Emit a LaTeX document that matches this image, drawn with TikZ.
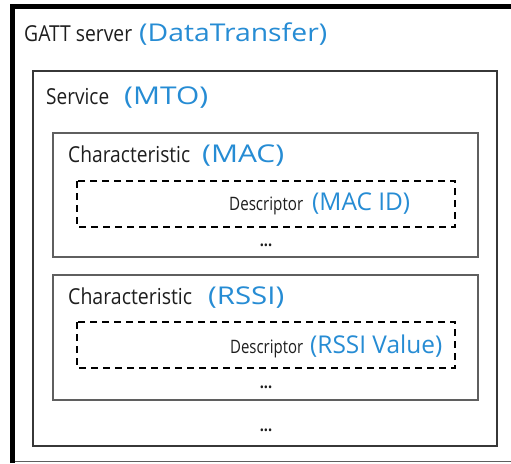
\documentclass[tikz,border=0pt]{standalone}
\usepackage{fontspec}
\usepackage{graphicx}
\setmainfont{Open Sans}
\newfontfamily\namefont[FakeStretch=0.85]{Open Sans}
\newfontfamily\tagfont{Open Sans}
\definecolor{tagblue}{RGB}{38,140,212}
\definecolor{inkgray}{RGB}{30,30,30}
\definecolor{rulegray}{RGB}{55,55,55}
\definecolor{thingray}{RGB}{95,95,95}
% set a label to a given width, keeping its natural height
\newcommand{\fitw}[2]{\resizebox{#1}{\height}{#2}}
\begin{document}
\begin{tikzpicture}[x=1pt,y=-1pt,
  kind/.style={anchor=base west,inner sep=0pt,text=inkgray,font=\namefont\fontsize{22}{22}\selectfont},
  desc/.style={anchor=base west,inner sep=0pt,text=inkgray,font=\namefont\fontsize{18.5}{18.5}\selectfont},
  tag/.style={anchor=base west,inner sep=0pt,text=tagblue,font=\tagfont\fontsize{24.5}{24.5}\selectfont},
  dots/.style={anchor=base,inner sep=0pt,text=inkgray,font=\namefont\bfseries\fontsize{17}{17}\selectfont},
  servicebox/.style={draw=rulegray,line width=2pt},
  charbox/.style={draw=thingray,line width=1.3pt},
  descbox/.style={draw=black,line width=2pt,dash pattern=on 7pt off 5pt}]
\useasboundingbox (0,0) rectangle (511,463);
\fill[white] (0,0) rectangle (511,463);

% server frame
\draw[black,line width=5pt] (12.5,463) -- (12.5,6.5) -- (511,6.5);
\draw[thingray,line width=1pt] (15,461) -- (511,461);
\node[kind] (srv) at (24,41) {\fitw{108pt}{GATT server}};
\node[tag] (srvtag) at (139,41) {\fitw{188pt}{(DataTransfer)}};

% service box
\draw[servicebox] (33,71) rectangle (497,446);
\node[kind] (svc) at (46,104) {\fitw{63pt}{Service}};
\node[tag] (svctag) at (124,104) {\fitw{84pt}{(MTO)}};

% characteristic: MAC
\draw[charbox] (53,133) rectangle (478,257);
\node[kind] (chmac) at (68,162) {\fitw{122pt}{Characteristic}};
\node[tag] (chmactag) at (202,162) {\fitw{82pt}{(MAC)}};
\draw[descbox] (77,181) rectangle (455,227);
\node[desc] (dsmac) at (229,210) {\fitw{74pt}{Descriptor}};
\node[tag] (dsmactag) at (312,210) {\fitw{98pt}{(MAC ID)}};
\node[dots] (dotsmac) at (266,246) {...};

% characteristic: RSSI
\draw[charbox] (53,275) rectangle (478,400);
\node[kind] (chrssi) at (68,304) {\fitw{124pt}{Characteristic}};
\node[tag] (chrssitag) at (208,304) {\fitw{76pt}{(RSSI)}};
\draw[descbox] (77,322) rectangle (455,368);
\node[desc] (dsrssi) at (230,353) {\fitw{73pt}{Descriptor}};
\node[tag] (dsrssitag) at (310,353) {\fitw{132pt}{(RSSI Value)}};
\node[dots] (dotsrssi) at (266,388) {...};

\node[dots] (dotssvc) at (266,431) {...};
\end{tikzpicture}
\end{document}
